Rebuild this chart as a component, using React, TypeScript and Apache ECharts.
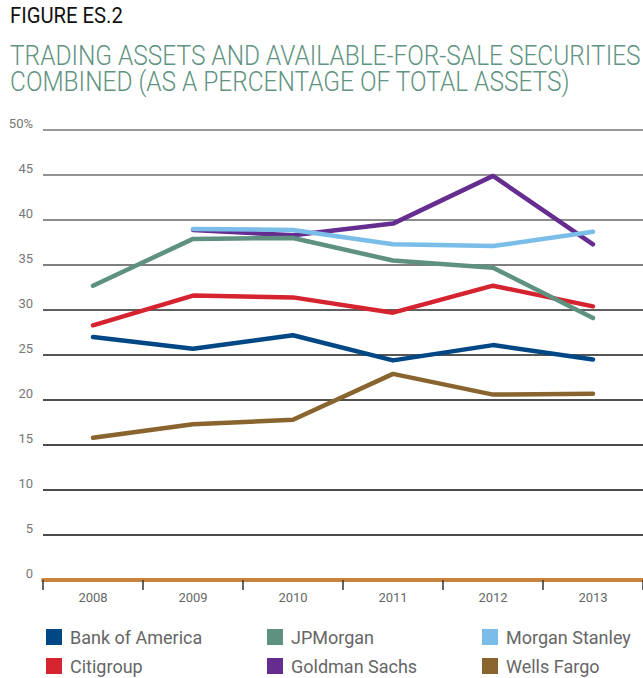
import React, { useEffect, useRef } from "react";
import * as echarts from "echarts";

const years = ["2008", "2009", "2010", "2011", "2012", "2013"];
const bankOfAmerica = [27.0, 25.7, 27.2, 24.4, 26.1, 24.5];
const jpMorgan = [32.7, 37.9, 38.0, 35.5, 34.7, 29.1];
const morganStanley = [null, 39.0, 38.9, 37.3, 37.1, 38.7];
const citigroup = [28.3, 31.6, 31.4, 29.7, 32.7, 30.4];
const goldmanSachs = [null, 38.9, 38.3, 39.6, 44.9, 37.3];
const wellsFargo = [15.8, 17.3, 17.8, 22.9, 20.6, 20.7];

const FONT = "Roboto, 'Noto Sans', sans-serif";

function measure(text: string, size: number, weight: string): number {
  const c = document.createElement("canvas").getContext("2d");
  if (!c) return text.length * size * 0.6;
  c.font = `${weight} ${size}px ${FONT}`;
  return c.measureText(text).width;
}

export default function App() {
  const ref = useRef<HTMLDivElement>(null);
  useEffect(() => {
    if (!ref.current) return;
    const chart = echarts.init(ref.current, null, { renderer: "svg" });

    const fig = "FIGURE ES.2";
    const t1 = "TRADING ASSETS AND AVAILABLE-FOR-SALE SECURITIES";
    const t2 = "COMBINED (AS A PERCENTAGE OF TOTAL ASSETS)";
    const figScale = 113 / measure(fig, 22, "normal");
    const tScale = 631 / measure(t1, 28, "300");

    const colors = {
      boa: "#004785",
      jpm: "#5f9180",
      ms: "#7bbde9",
      citi: "#d52330",
      gs: "#652d90",
      wf: "#89642f",
    };

    const mk = (name: string, data: (number | null)[], color: string) => ({
      name,
      type: "line",
      data,
      symbol: "none",
      showSymbol: false,
      connectNulls: false,
      color,
      lineStyle: { width: 4.5, color, cap: "round", join: "round" },
      emphasis: { disabled: true },
    });

    const legendBase = {
      orient: "vertical",
      top: 628,
      padding: 0,
      itemWidth: 16,
      itemHeight: 16,
      itemGap: 11,
      icon: "rect",
      selectedMode: false,
      textStyle: {
        fontFamily: FONT,
        fontSize: 18,
        color: "#666",
        lineHeight: 16,
        padding: [0, 0, 0, 3],
      },
    };

    chart.setOption({
      animation: false,
      graphic: [
        {
          type: "text",
          left: 10,
          top: 4,
          scaleX: figScale,
          style: { text: fig, font: `22px ${FONT}`, fill: "#111" },
        },
        {
          type: "text",
          x: 10,
          y: 41,
          scaleX: tScale,
          style: { text: t1, font: `300 28px ${FONT}`, fill: "#5f9382" },
        },
        {
          type: "text",
          x: 10,
          y: 67,
          scaleX: tScale,
          style: { text: t2, font: `300 28px ${FONT}`, fill: "#5f9382" },
        },
      ],
      grid: { left: 43, right: 0, top: 130, bottom: 98, containLabel: false },
      xAxis: {
        type: "category",
        data: years,
        boundaryGap: true,
        axisLine: { show: true, lineStyle: { color: "#c8843d", width: 4 } },
        axisTick: { show: true, length: 10, lineStyle: { color: "#333", width: 1.5 } },
        axisLabel: { fontFamily: FONT, fontSize: 13, color: "#666", margin: 11 },
        splitLine: { show: false },
      },
      yAxis: {
        type: "value",
        min: 0,
        max: 50,
        interval: 5,
        axisLine: { show: false },
        axisTick: { show: false },
        axisLabel: {
          fontFamily: FONT,
          fontSize: 13,
          color: "#777",
          margin: 10,
          verticalAlign: "bottom",
          formatter: (v: number) => (v === 50 ? "50%" : String(v)),
        },
        splitLine: {
          show: true,
          lineStyle: {
            width: 1.5,
            color: [
              "#c8843d",
              "#111",
              "#111",
              "#111",
              "#151515",
              "#1c1c1c",
              "#2a2a2a",
              "#555",
              "#666",
              "#6e6e6e",
              "#777",
            ],
          },
        },
      },
      legend: [
        { ...legendBase, left: 46, data: ["Bank of America", "Citigroup"] },
        { ...legendBase, left: 267, data: ["JPMorgan", "Goldman Sachs"] },
        { ...legendBase, left: 482, data: ["Morgan Stanley", "Wells Fargo"] },
      ],
      series: [
        mk("Bank of America", bankOfAmerica, colors.boa),
        mk("Citigroup", citigroup, colors.citi),
        mk("Wells Fargo", wellsFargo, colors.wf),
        mk("Goldman Sachs", goldmanSachs, colors.gs),
        mk("JPMorgan", jpMorgan, colors.jpm),
        mk("Morgan Stanley", morganStanley, colors.ms),
      ],
    });
    return () => chart.dispose();
  }, []);
  return (
    <div
      ref={ref}
      style={{ position: "fixed", left: 0, top: 0, width: 643, height: 678, background: "#fff" }}
    />
  );
}
